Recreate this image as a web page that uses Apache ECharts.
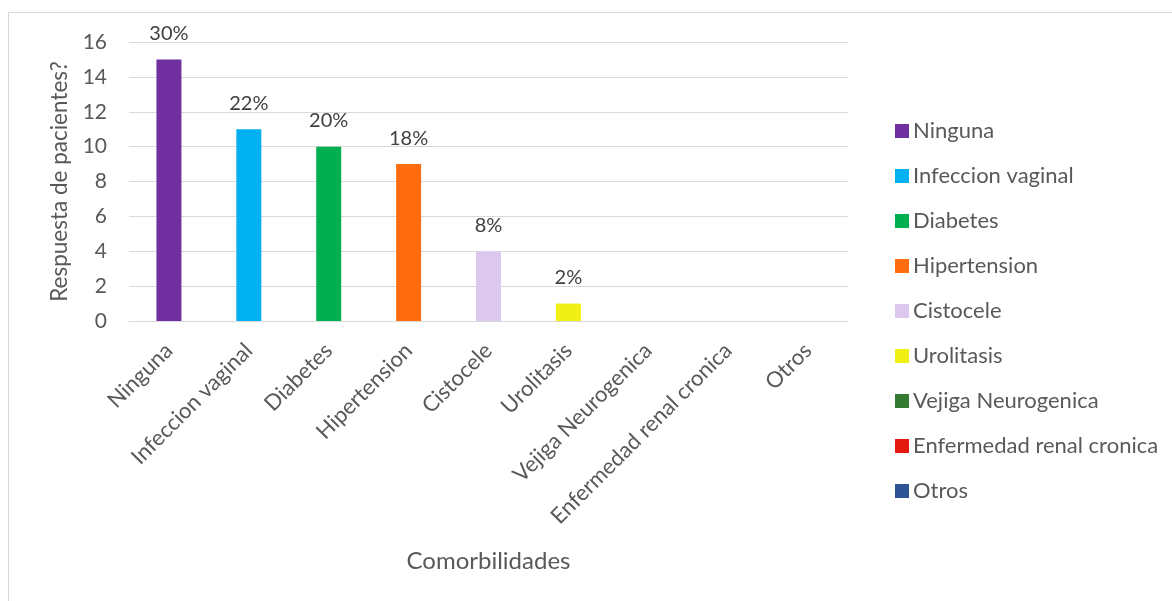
<!DOCTYPE html>
<html>
<head>
<meta charset="utf-8">
<script src="https://cdn.jsdelivr.net/npm/echarts@6/dist/echarts.min.js"></script>
<style>
  html, body { margin: 0; padding: 0; background: #fff; }
  #chart { width: 1172px; height: 601px; }
</style>
</head>
<body>
<div id="chart"></div>
<script>
// Comorbidity categories and patient counts
const categories = ['Ninguna', 'Infeccion vaginal', 'Diabetes', 'Hipertension', 'Cistocele',
  'Urolitasis', 'Vejiga Neurogenica', 'Enfermedad renal cronica', 'Otros'];
const counts = [15, 11, 10, 9, 4, 1, 0, 0, 0];
const colors = ['#7030a0', '#00b0f0', '#00b050', '#ff6d10', '#dcc8ee',
  '#f0f014', '#357a32', '#e41a10', '#2f5496'];
const yTicks = { min: 0, max: 16, interval: 2 };

const total = counts.reduce((a, b) => a + b, 0);
const FONT = 'Lato, "Open Sans", sans-serif';
const TXT = '#595959';

// One series per category so each gets its own legend entry; stacking keeps bars centred.
const series = categories.map((name, i) => ({
  name,
  type: 'bar',
  stack: 'all',
  barWidth: 25,
  itemStyle: { color: colors[i] },
  data: categories.map((_, j) => (j === i ? counts[i] : null)),
  label: {
    show: counts[i] > 0,
    position: 'top',
    distance: 16,
    color: '#404040',
    fontFamily: FONT,
    fontSize: 20,
    formatter: p => Math.round(p.value / total * 100) + '%'
  }
}));

const chart = echarts.init(document.getElementById('chart'), null, { renderer: 'canvas' });
chart.setOption({
  animation: false,
  backgroundColor: '#fff',
  textStyle: { fontFamily: FONT },
  graphic: [{
    type: 'rect',
    shape: { x: 8.5, y: 12.5, width: 1180, height: 600 },
    style: { fill: 'none', stroke: '#d9d9d9', lineWidth: 1 },
    z: -10
  }],
  grid: { left: 129, right: 324, top: 42, bottom: 280 },
  legend: {
    orient: 'vertical',
    left: 890,
    top: 115,
    itemWidth: 14,
    itemHeight: 14,
    itemGap: 23,
    icon: 'rect',
    textStyle: { color: TXT, fontSize: 22, fontFamily: FONT, padding: [0, 0, 0, -1] },
    data: categories
  },
  xAxis: {
    type: 'category',
    data: categories,
    name: 'Comorbilidades',
    nameLocation: 'middle',
    nameGap: 228,
    nameTextStyle: { color: TXT, fontSize: 24, fontFamily: FONT },
    axisLine: { lineStyle: { color: '#d9d9d9', width: 1 } },
    axisTick: { show: false },
    axisLabel: {
      rotate: 45,
      interval: 0,
      margin: 26,
      color: TXT,
      fontSize: 22,
      fontFamily: FONT
    }
  },
  yAxis: {
    type: 'value',
    min: yTicks.min,
    max: yTicks.max,
    interval: yTicks.interval,
    name: 'Respuesta de pacientes?',
    nameLocation: 'middle',
    nameGap: 56,
    nameTextStyle: { color: TXT, fontSize: 22.5, fontFamily: FONT },
    axisLine: { show: false },
    axisTick: { show: false },
    splitLine: { lineStyle: { color: '#d9d9d9', width: 1 } },
    axisLabel: { color: TXT, fontSize: 21, fontFamily: FONT, margin: 22 }
  },
  series
});
</script>
</body>
</html>
